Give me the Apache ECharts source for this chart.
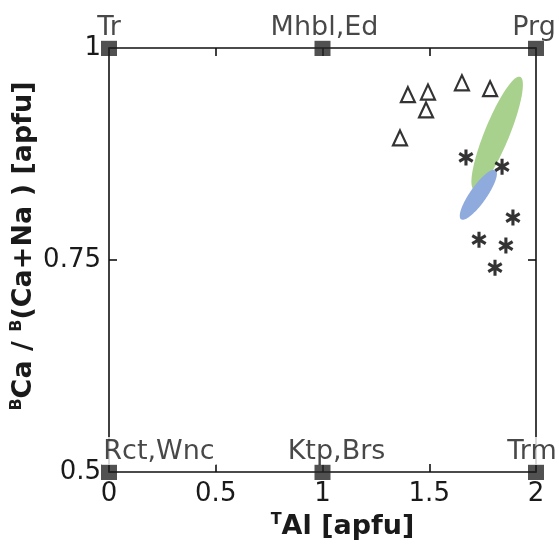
<!DOCTYPE html>
<html>
<head>
<meta charset="utf-8">
<script src="https://cdn.jsdelivr.net/npm/echarts@6/dist/echarts.min.js"></script>
<style>html,body{margin:0;padding:0;background:#fff}#c{width:559px;height:546px}</style>
</head>
<body>
<div id="c"></div>
<script>
// Axis ranges / ticks
const xMin = 0, xMax = 2, xStep = 0.5;
const yMin = 0.5, yMax = 1, yStep = 0.25;

// End-member reference points
const endLabels = ['Tr', 'Mhbl,Ed', 'Prg', 'Rct,Wnc', 'Ktp,Brs', 'Trm'];
const endAl    = [0, 1, 2, 0, 1, 2];
const endRatio = [1, 1, 1, 0.5, 0.5, 0.5];

// Triangle samples
const triAl    = [1.400, 1.494, 1.485, 1.653, 1.785, 1.363];
const triRatio = [0.945, 0.948, 0.927, 0.959, 0.952, 0.894];

// Asterisk samples
const starAl    = [1.672, 1.841, 1.892, 1.733, 1.859, 1.808];
const starRatio = [0.871, 0.860, 0.800, 0.774, 0.767, 0.741];

// Ellipse fields: major-axis endpoints (Al, ratio) and semi-minor half-width (Al units)
const greenEllipse = [1.926, 0.966, 1.710, 0.833, 0.058];
const blueEllipse  = [1.649, 0.798, 1.811, 0.856, 0.039];

const FONT = 'DejaVu Sans';
const INK = '#1a1a1a';

const endLabelStyle = [
  {}, {offset: [2, 0]}, {offset: [-2, 0]},
  {offset: [50, 0]}, {offset: [14, 0]}, {offset: [-4, 0]}
];

const starPath = 'path://M40 0 L60 0 L60 100 L40 100 Z M1.7 33.7 L11.7 16.3 L98.3 66.3 L88.3 83.7 Z M88.3 16.3 L98.3 33.7 L11.7 83.7 L1.7 66.3 Z';

function renderEllipse(params, api) {
  const p1 = api.coord([api.value(0), api.value(1)]);
  const p2 = api.coord([api.value(2), api.value(3)]);
  const b = api.size([api.value(4), 0])[0];
  const cx = (p1[0] + p2[0]) / 2, cy = (p1[1] + p2[1]) / 2;
  const dx = p2[0] - p1[0], dy = p2[1] - p1[1];
  const a = Math.hypot(dx, dy) / 2;
  const ux = dx / (2 * a), uy = dy / (2 * a);
  const vx = -uy, vy = ux;
  const pts = [];
  for (let i = 0; i < 96; i++) {
    const t = i / 96 * Math.PI * 2;
    const c = Math.cos(t), s = Math.sin(t);
    pts.push([cx + a * c * ux + b * s * vx, cy + a * c * uy + b * s * vy]);
  }
  return {type: 'polygon', shape: {points: pts}, style: {fill: api.visual('color')}};
}

const axisCommon = {
  axisLine: {show: true, onZero: false, lineStyle: {color: '#111', width: 1.6}},
  axisTick: {show: true, inside: true, length: 8, lineStyle: {color: '#111', width: 1.6}},
  splitLine: {show: false}
};

const option = {
  animation: false,
  grid: {left: 109, right: 23, top: 48, bottom: 74, containLabel: false, outerBoundsMode: 'none'},
  xAxis: [
    Object.assign({
      type: 'value', min: xMin, max: xMax, interval: xStep, position: 'bottom',
      axisLabel: {show: true, color: INK, fontFamily: FONT, fontSize: 26, margin: 9,
        formatter: v => String(v)},
      name: '{sup|T}{b|Al [apfu]}', nameLocation: 'middle', nameGap: 40,
      nameMoveOverlap: false,
      nameTextStyle: {
        padding: [0, 0, 0, 40],
        rich: {
          b: {fontFamily: FONT, fontWeight: 'bold', fontSize: 27, color: INK},
          sup: {fontFamily: FONT, fontWeight: 'bold', fontSize: 16, color: INK, verticalAlign: 'top', lineHeight: 30}
        }
      }
    }, axisCommon),
    Object.assign({
      type: 'value', min: xMin, max: xMax, interval: xStep, position: 'top',
      axisLabel: {show: false}
    }, axisCommon)
  ],
  yAxis: [
    Object.assign({
      type: 'value', min: yMin, max: yMax, interval: yStep, position: 'left',
      axisLabel: {show: true, color: INK, fontFamily: FONT, fontSize: 26, margin: 8,
        formatter: v => String(v)},
      name: '{sup|B}{b|Ca / }{sup|B}{b|(Ca+Na ) [apfu]}', nameLocation: 'middle', nameGap: 70,
      nameRotate: 90, nameMoveOverlap: false,
      nameTextStyle: {
        padding: [0, 0, 0, 28],
        rich: {
          b: {fontFamily: FONT, fontWeight: 'bold', fontSize: 27, color: INK},
          sup: {fontFamily: FONT, fontWeight: 'bold', fontSize: 16, color: INK, verticalAlign: 'top', lineHeight: 30}
        }
      }
    }, axisCommon),
    Object.assign({
      type: 'value', min: yMin, max: yMax, interval: yStep, position: 'right',
      axisLabel: {show: false}
    }, axisCommon)
  ],
  series: [
    {
      type: 'custom', renderItem: renderEllipse, clip: false, z: 1,
      itemStyle: {color: '#a9d18e'},
      encode: {x: [0, 2], y: [1, 3]},
      data: [greenEllipse]
    },
    {
      type: 'custom', renderItem: renderEllipse, clip: false, z: 1,
      itemStyle: {color: '#8faadc'},
      encode: {x: [0, 2], y: [1, 3]},
      data: [blueEllipse]
    },
    {
      type: 'scatter', z: 3,
      symbol: 'triangle', symbolSize: [14, 15],
      itemStyle: {color: 'rgba(0,0,0,0)', borderColor: '#000', borderWidth: 2.2},
      data: triAl.map((x, i) => [x, triRatio[i]])
    },
    {
      type: 'scatter', z: 3,
      symbol: starPath, symbolSize: [15, 16],
      itemStyle: {color: '#000'},
      data: starAl.map((x, i) => [x, starRatio[i]])
    },
    {
      type: 'scatter', z: 5, clip: false,
      symbol: 'rect', symbolSize: 16,
      itemStyle: {color: '#262626'},
      label: {
        show: true, position: 'top', distance: -1,
        color: INK, fontFamily: FONT, fontSize: 27,
        backgroundColor: '#fff', padding: [1, 2, 0, 2],
        formatter: p => endLabels[p.dataIndex]
      },
      data: endAl.map((x, i) => ({value: [x, endRatio[i]], label: endLabelStyle[i]}))
    }
  ]
};

const chart = echarts.init(document.getElementById('c'), null, {renderer: 'canvas'});
chart.setOption(option);
</script>
</body>
</html>
